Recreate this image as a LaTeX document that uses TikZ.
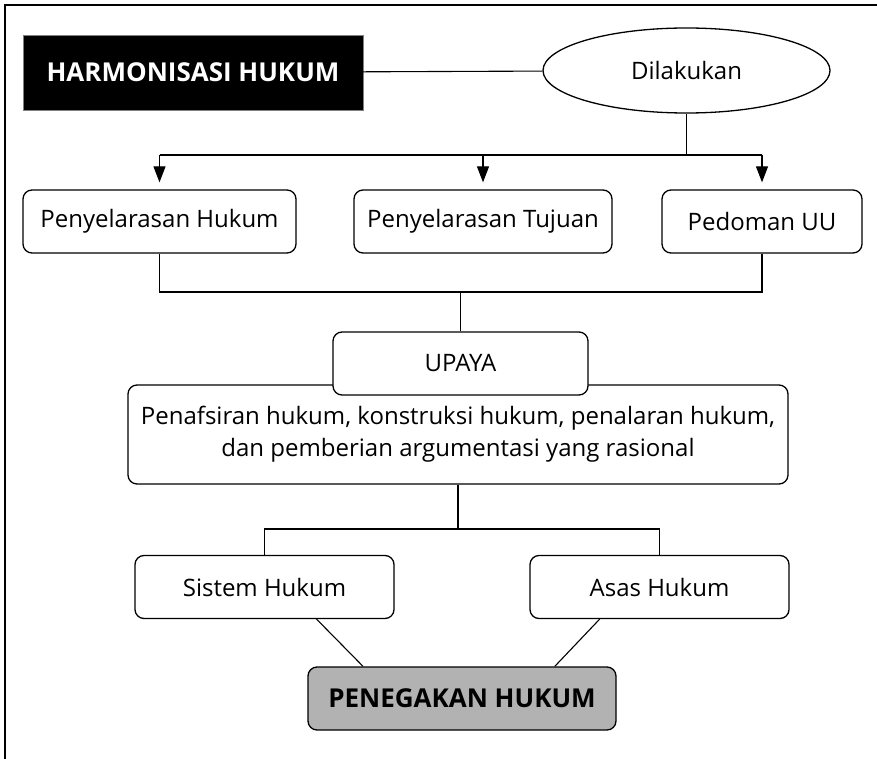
\documentclass[tikz,border=0pt]{standalone}
\usepackage{fontspec}
\setmainfont{Open Sans}
\usepackage{tikz}
\usetikzlibrary{
    arrows.meta,
    positioning,
    shapes.geometric,
    calc
}

\begin{document}
\begin{tikzpicture}[
    x=1pt,
    y=-1pt,
    judul/.style={
        rectangle,
        draw=black!50,
        fill=black,
        text=white,
        minimum width=340pt,
        minimum height=75pt,
        inner sep=0pt,
        font=\fontsize{26}{30}\selectfont\bfseries
    },
    elips/.style={
        ellipse,
        draw,
        line width=1.3pt,
        minimum width=287pt,
        minimum height=85pt,
        inner sep=0pt,
        font=\fontsize{24}{28}\selectfont
    },
    kotak/.style={
        rectangle,
        draw,
        fill=white,
        rounded corners=9pt,
        line width=1.3pt,
        align=center,
        minimum height=63pt,
        inner sep=0pt,
        font=\fontsize{24}{32}\selectfont
    },
    hasil/.style={
        kotak,
        fill=black!30,
        font=\fontsize{26}{30}\selectfont\bfseries
    },
    garis/.style={
        line width=1.1pt
    },
    panah/.style={
        -{Triangle[length=16pt,width=12pt]},
        line width=1.1pt,
        shorten >=7pt
    }
]
\useasboundingbox (0,0) rectangle (877,759);

% Bingkai
\draw[line width=2pt] (5,759) -- (5,5) -- (877,5);

\node[judul] (harmonisasi) at (193,72.5) {HARMONISASI HUKUM};
\node[elips] (dilakukan) at (686.5,70.5) {Dilakukan};
\node[kotak, minimum width=273pt] (hukum) at (159.5,221.5) {Penyelarasan Hukum};
\node[kotak, minimum width=258pt] (tujuan) at (483,221.5) {Penyelarasan Tujuan};
\node[kotak, minimum width=200pt] (pedoman) at (762,221.5) {Pedoman UU};
\node[kotak, minimum width=660pt, minimum height=99pt] (penafsiran) at (458,434.5)
    {Penafsiran hukum, konstruksi hukum, penalaran hukum,\\dan pemberian argumentasi yang rasional};
\node[kotak, minimum width=255pt] (upaya) at (460.5,363.5) {UPAYA};
\node[kotak, minimum width=259pt] (sistem) at (264.5,587) {Sistem Hukum};
\node[kotak, minimum width=259pt] (asas) at (659.5,587) {Asas Hukum};
\node[hasil, minimum width=308pt] (penegakan) at (462,698.5) {PENEGAKAN HUKUM};

\coordinate (atas) at (0,155);
\coordinate (tengah) at (0,292);
\coordinate (bawah) at (0,529);

% Cabang atas
\draw[garis] (harmonisasi) -- (dilakukan);
\draw[garis] (dilakukan.south) -- (dilakukan.south |- atas);
\draw[garis] (hukum.north |- atas) -- (pedoman.north |- atas);
\foreach \k in {hukum,tujuan,pedoman}
    \draw[panah] (\k.north |- atas) -- (\k.north);

% Menuju upaya
\draw[garis] (hukum.south) |- (pedoman.south |- tengah) -- (pedoman.south);
\draw[garis] (upaya.north |- tengah) -- (upaya.north);

% Cabang bawah
\draw[garis] (penafsiran.south) -- (penafsiran.south |- bawah);
\draw[garis] (sistem.north) |- (asas.north |- bawah) -- (asas.north);
\draw[garis] ($(sistem.south west)!0.7!(sistem.south east)$) -- ($(penegakan.north west)!0.18!(penegakan.north east)$);
\draw[garis] ($(asas.south west)!0.27!(asas.south east)$) -- ($(penegakan.north west)!0.8!(penegakan.north east)$);

\end{tikzpicture}
\end{document}
